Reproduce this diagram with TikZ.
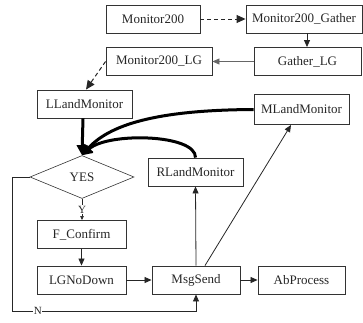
\documentclass[tikz,border=0pt]{standalone}
\usepackage{fontspec}
\setmainfont{Liberation Serif}
\usetikzlibrary{arrows.meta,shapes.geometric}

\tikzset{
  box/.style={draw=black!80, line width=0.9pt, rectangle, inner sep=0pt,
    minimum height=28pt, font=\fontsize{13}{15}\selectfont, text=black!85},
  decide/.style={draw=black!80, line width=0.6pt, diamond, aspect=2.42, inner sep=0pt,
    minimum width=104pt, minimum height=43pt, font=\fontsize{13}{15}\selectfont, text=black!85},
  link/.style={draw=black!85, line width=0.8pt, -{Triangle[length=7pt,width=6pt]}},
  dlink/.style={draw=black!85, line width=1pt, dash pattern=on 4pt off 3pt,
    -{Triangle[length=9pt,width=8pt]}},
  heavy/.style={draw=black, line width=3pt, -{Triangle[length=10pt,width=11pt]}},
  lbl/.style={fill=white, inner sep=0.5pt, font=\fontsize{11}{12}\selectfont, text=black!85}
}

\begin{document}
\begin{tikzpicture}[x=1pt, y=-1pt]
  \useasboundingbox (0,0) rectangle (363,322);

  % top row
  \node[box, minimum width=94pt]  (m200)   at (153,19)    {Monitor200};
  \node[box, minimum width=116pt] (gather) at (304,19)    {Monitor200\_Gather};
  \node[box, minimum width=107pt] (glg)    at (307.5,61.5) {Gather\_LG};
  \node[box, minimum width=106pt] (mlg)    at (159,61.5)  {Monitor200\_LG};

  % monitors
  \node[box, minimum width=95pt]  (ll)  at (84.5,104)  {LLandMonitor};
  \node[box, minimum width=95pt, minimum height=30pt] (ml) at (301.5,109.5) {MLandMonitor};
  \node[box, minimum width=95pt]  (rl)  at (195.5,172) {RLandMonitor};

  % decision and flow
  \node[decide] (yes) at (82,177) {YES};
  \node[box, minimum width=89pt] (fc)  at (81.5,234.5) {F\_Confirm};
  \node[box, minimum width=89pt] (lg)  at (81.5,280)   {LGNoDown};
  \node[box, minimum width=88pt] (ms)  at (196,280)    {MsgSend};
  \node[box, minimum width=87pt] (ab)  at (301.5,280)  {AbProcess};

  % upper connectors
  \draw[dlink] (m200) -- (gather);
  \draw[link] (gather.south -| 307,0) -- (glg.north -| 307,0);
  \draw[link, draw=black!60] (glg) -- (mlg);
  \draw[dlink] (mlg.west) -- (ll.north -| 86,0);

  % heavy arrows into the decision
  \draw[heavy] (ll.south -| 83,0) -- (yes.north);
  \draw[heavy] (ml.west) .. controls (165,110) and (112,122) .. (yes.north);
  \draw[heavy] (rl.north) .. controls (196,134) and (108,132) .. (yes.north);

  % Y branch
  \draw[link, line width=0.6pt, -{Triangle[length=4pt,width=3.5pt]}]
    (yes.south) -- node[lbl] {Y} (fc.north -| yes.south);
  \draw[link] (fc) -- (lg);
  \draw[link] (lg) -- (ms);
  \draw[link] (ms) -- (ab);

  % MsgSend outputs
  \draw[link] (ms.north) -- (rl.south);
  \draw[link] (ms.north -| 205,0) -- (ml.south -| 291,0);

  % N branch
  \coordinate (nl) at (12,177);
  \coordinate (nb) at (12,311);
  \draw[link] (yes.west) -- (nl) -- (nb) -- node[lbl, pos=0.14] {N} (nb -| ms.south) -- (ms.south);
\end{tikzpicture}
\end{document}
